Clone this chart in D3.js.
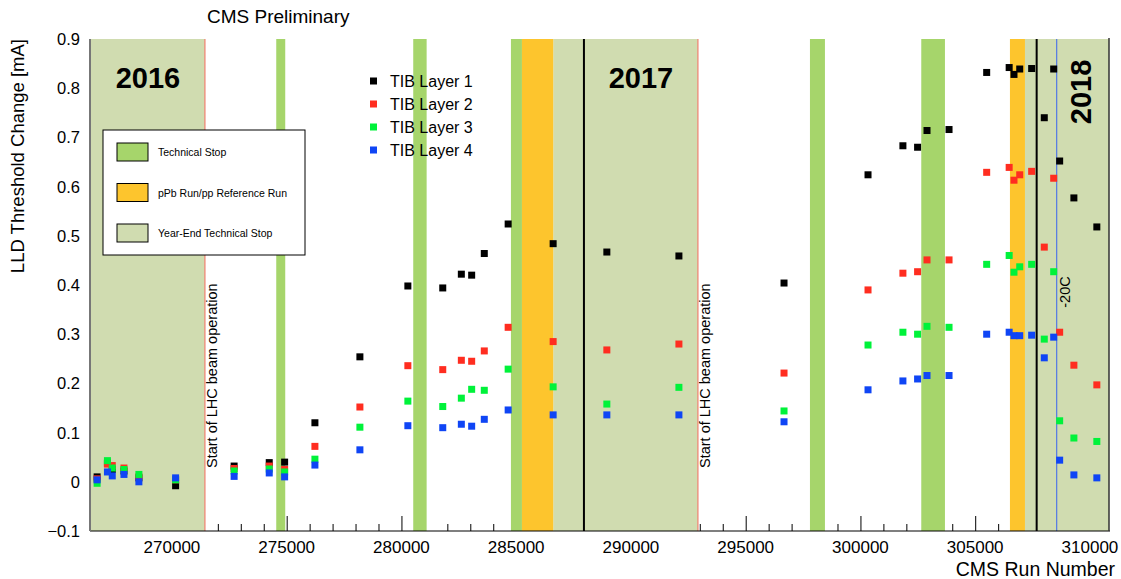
<!DOCTYPE html>
<html>
<head>
<meta charset="utf-8">
<script src="https://cdn.jsdelivr.net/npm/d3@7"></script>
<style>
  html, body { margin: 0; padding: 0; background: #fff; }
  svg { display: block; font-family: "Liberation Sans", Arial, sans-serif; }
</style>
</head>
<body>
<svg id="chart" width="1121" height="579"></svg>
<script>
// CMS run numbers of the measurements
const runs = [266740, 267190, 267400, 267910, 268560, 270160, 272710, 274240, 274910, 276230,
  278190, 280280, 281800, 282610, 283060, 283610, 284650, 286610, 288950, 292090,
  296670, 300330, 301850, 302490, 302900, 303860, 305500, 306480, 306690, 306940,
  307460, 308010, 308420, 308680, 309300, 310300];

// LLD threshold change [mA] per TIB layer
const layer1 = [0.010, 0.038, 0.025, 0.022, 0.008, -0.008, 0.032, 0.039, 0.040, 0.120,
  0.254, 0.398, 0.394, 0.422, 0.420, 0.464, 0.524, 0.484, 0.467, 0.459,
  0.404, 0.624, 0.683, 0.680, 0.714, 0.716, 0.832, 0.842, 0.828, 0.839,
  0.840, 0.740, 0.839, 0.652, 0.577, 0.518];
const layer2 = [0.006, 0.036, 0.033, 0.028, 0.010, 0.004, 0.027, 0.032, 0.025, 0.072,
  0.152, 0.236, 0.228, 0.247, 0.245, 0.266, 0.314, 0.285, 0.268, 0.280,
  0.221, 0.390, 0.424, 0.427, 0.451, 0.451, 0.629, 0.639, 0.613, 0.624,
  0.631, 0.477, 0.617, 0.304, 0.237, 0.197];
const layer3 = [-0.003, 0.043, 0.028, 0.025, 0.015, 0.004, 0.022, 0.026, 0.020, 0.046,
  0.111, 0.164, 0.153, 0.170, 0.188, 0.186, 0.229, 0.193, 0.158, 0.192,
  0.144, 0.278, 0.304, 0.300, 0.316, 0.314, 0.442, 0.460, 0.426, 0.437,
  0.442, 0.290, 0.427, 0.124, 0.089, 0.082];
const layer4 = [0.004, 0.020, 0.012, 0.015, 0.000, 0.008, 0.011, 0.018, 0.010, 0.034,
  0.065, 0.114, 0.110, 0.117, 0.113, 0.127, 0.146, 0.136, 0.136, 0.136,
  0.122, 0.187, 0.205, 0.209, 0.216, 0.216, 0.300, 0.304, 0.297, 0.297,
  0.298, 0.252, 0.294, 0.044, 0.014, 0.008];

const seriesNames = ["TIB Layer 1", "TIB Layer 2", "TIB Layer 3", "TIB Layer 4"];
const seriesColors = ["#000000", "#ff2d20", "#00f23a", "#0f45f5"];

// Run ranges of the LHC periods
const runMin = 266430, runMax = 310830;
const technicalStops = [[274545, 274937], [280514, 281098], [284771, 285251], [297800, 298453], [302650, 303682]];
const pPbRuns = [[285251, 286614], [306514, 307168]];
const yearEndStops = [[runMin, 271438], [286614, 292919], [307168, runMax]];
const beamStartRuns = [271438, 292919];
const newYearRuns = [287952, 307678];
const coldRun = 308549;

const xTicks = [270000, 275000, 280000, 285000, 290000, 295000, 300000, 305000, 310000];
const yTicks = [-0.1, 0, 0.1, 0.2, 0.3, 0.4, 0.5, 0.6, 0.7, 0.8, 0.9];

const periodLegend = ["Technical Stop", "pPb Run/pp Reference Run", "Year-End Technical Stop"];
const colTech = "#a6d56b", colPPb = "#fdc52d", colYearEnd = "#d0dcb0";

const svg = d3.select("#chart");
const L = 90, R = 1109, T = 39, B = 531;
const x = d3.scaleLinear().domain([runMin, runMax]).range([L, R]);
const y = d3.scaleLinear().domain([-0.1, 0.9]).range([B, T]);

// axis ticks (drawn first; the period bands cover them)
const xAxis = d3.axisTop(x).tickValues(d3.range(267000, 311000, 1000))
  .tickSize(7).tickFormat("");
const gx = svg.append("g").attr("transform", `translate(0,${B})`).call(xAxis);
gx.selectAll(".tick line").attr("stroke", "#000")
  .attr("y2", d => d % 5000 === 0 ? -15 : -7);
gx.select(".domain").remove();

// period bands
const bands = svg.append("g");
function addBands(list, color) {
  bands.selectAll(null).data(list).enter().append("rect")
    .attr("x", d => x(d[0])).attr("width", d => x(d[1]) - x(d[0]))
    .attr("y", T).attr("height", B - T).attr("fill", color);
}
addBands(yearEndStops, colYearEnd);
addBands(technicalStops, colTech);
addBands(pPbRuns, colPPb);

// vertical markers
svg.selectAll(null).data(beamStartRuns).enter().append("line")
  .attr("x1", d => x(d)).attr("x2", d => x(d)).attr("y1", T).attr("y2", B)
  .attr("stroke", "#f08070").attr("stroke-width", 1.2);
svg.selectAll(null).data(newYearRuns).enter().append("line")
  .attr("x1", d => x(d)).attr("x2", d => x(d)).attr("y1", T).attr("y2", B)
  .attr("stroke", "#000").attr("stroke-width", 2);
svg.append("line").attr("x1", x(coldRun)).attr("x2", x(coldRun)).attr("y1", T).attr("y2", B)
  .attr("stroke", "#5b7fe0").attr("stroke-width", 1.3);

// annotations
svg.append("text").attr("x", 148).attr("y", 88).attr("text-anchor", "middle")
  .attr("font-size", 29).attr("font-weight", "bold").text("2016");
svg.append("text").attr("x", 641).attr("y", 88).attr("text-anchor", "middle")
  .attr("font-size", 29).attr("font-weight", "bold").text("2017");
svg.append("text").attr("transform", "translate(1091,92) rotate(-90)").attr("text-anchor", "middle")
  .attr("font-size", 29).attr("font-weight", "bold").text("2018");
beamStartRuns.forEach(r => {
  svg.append("text").attr("transform", `translate(${x(r) + 12},468) rotate(-90)`)
    .attr("font-size", 14.5).text("Start of LHC beam operation");
});
svg.append("text").attr("transform", `translate(${x(coldRun) + 13},292) rotate(-90)`)
  .attr("text-anchor", "middle").attr("font-size", 14.5).text("-20C");

// measurements
const layers = [layer1, layer2, layer3, layer4];
const ms = 7;
layers.forEach((vals, i) => {
  svg.append("g").selectAll("rect").data(runs.map((r, k) => [r, vals[k]])).enter()
    .append("rect")
    .attr("x", d => x(d[0]) - ms / 2).attr("y", d => y(d[1]) - ms / 2)
    .attr("width", ms).attr("height", ms).attr("fill", seriesColors[i]);
});

// frame and axes lines
svg.append("line").attr("x1", L).attr("x2", R + 1).attr("y1", B).attr("y2", B)
  .attr("stroke", "#000").attr("stroke-width", 1.2);
svg.append("line").attr("x1", L).attr("x2", L).attr("y1", T).attr("y2", B)
  .attr("stroke", "#777").attr("stroke-width", 2);
svg.append("line").attr("x1", R).attr("x2", R).attr("y1", T - 1).attr("y2", B)
  .attr("stroke", "#333").attr("stroke-width", 1.5);

// tick labels
svg.append("g").selectAll("text").data(xTicks).enter().append("text")
  .attr("x", d => x(d)).attr("y", 553).attr("text-anchor", "middle")
  .attr("font-size", 17).text(d => d);
svg.append("g").selectAll("text").data(yTicks).enter().append("text")
  .attr("x", 80).attr("y", d => y(d) + 6).attr("text-anchor", "end")
  .attr("font-size", 16.5).text(d => d3.format("")(+d.toFixed(1)));

// axis titles
svg.append("text").attr("x", 1115).attr("y", 576).attr("text-anchor", "end")
  .attr("font-size", 19.5).text("CMS Run Number");
svg.append("text").attr("transform", "translate(24,39) rotate(-90)").attr("text-anchor", "end")
  .attr("font-size", 18.5).text("LLD Threshold Change [mA]");
svg.append("text").attr("x", 207).attr("y", 23).attr("font-size", 19).text("CMS Preliminary");

// legend of measurement series
const lg = svg.append("g");
seriesNames.forEach((n, i) => {
  const cy = 81 + i * 23;
  lg.append("rect").attr("x", 370).attr("y", cy - 3.5).attr("width", 7).attr("height", 7)
    .attr("fill", seriesColors[i]);
  lg.append("text").attr("x", 390).attr("y", cy + 6).attr("font-size", 16).text(n);
});

// legend of run periods
const pg = svg.append("g");
pg.append("rect").attr("x", 103).attr("y", 130).attr("width", 202).attr("height", 125)
  .attr("fill", "#fff").attr("stroke", "#000").attr("stroke-width", 1);
[colTech, colPPb, colYearEnd].forEach((c, i) => {
  const cy = 152 + i * 40.5;
  pg.append("rect").attr("x", 117).attr("y", cy - 9).attr("width", 31).attr("height", 18)
    .attr("fill", c).attr("stroke", "#000").attr("stroke-width", 1);
  pg.append("text").attr("x", 158).attr("y", cy + 4).attr("font-size", 10.5).text(periodLegend[i]);
});
</script>
</body>
</html>
